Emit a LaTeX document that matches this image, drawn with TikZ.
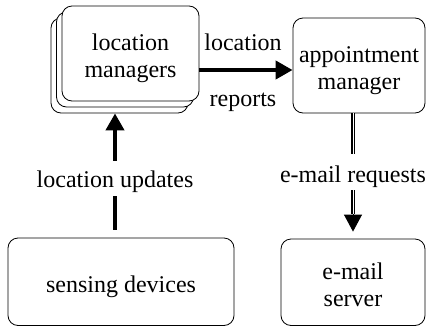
\documentclass[tikz,border=0pt]{standalone}
\usepackage{fontspec}
\setmainfont{Liberation Serif}
\newfontfamily\labelface{Liberation Serif}
\usetikzlibrary{arrows.meta,calc}
% box text sits a little below the geometric centre of its box
\newcommand\boxtext[1]{\raisebox{-5pt}[\height][\depth]{\begin{tabular}{@{}c@{}}#1\end{tabular}}}
\begin{document}
\begin{tikzpicture}[x=1pt,y=-1pt,
  box/.style={draw, rectangle, rounded corners=10pt, line width=0.8pt, fill=white,
    font=\labelface\fontsize{24}{27}\selectfont, inner sep=0pt},
  txt/.style={font=\labelface\fontsize{24}{27}\selectfont, inner sep=0pt, anchor=base},
  gaplabel/.style={txt, fill=white, text height=#1},
  thickarrow/.style={line width=4pt, -{Triangle[length=17pt,width=18pt]}},
  dbl/.style={double, double distance=1pt, line width=1.8pt},
  tiponly/.style={line width=1pt, -{Triangle[length=17pt,width=18pt]}}]
\useasboundingbox (0,0) rectangle (426,327);

% stack of location managers
\node[box, minimum width=137pt, minimum height=95pt] (lm2) at (119.5,65.5) {};
\node[box, minimum width=137pt, minimum height=95pt] (lm1) at (125,59.5) {};
\node[box, minimum width=137pt, minimum height=95pt] (lm) at (130.5,53.5) {\boxtext{location\\managers}};

% other components
\node[box, minimum width=132pt, minimum height=95pt] (am) at (359,65.5) {\boxtext{appointment\\manager}};
\node[box, minimum width=226pt, minimum height=87.5pt] (sd) at (121,281.75) {\boxtext{sensing devices}};
\node[box, minimum width=144pt, minimum height=86.5pt] (es) at (353,282.25) {\boxtext{e-mail\\server}};

% guide coordinates for the connectors
\coordinate (hy) at (0,70);
\coordinate (ux) at (115,0);
\coordinate (dx) at (353,0);
\coordinate (dtip) at (353,214);

% location reports
\draw[thickarrow] (lm.east |- hy) -- (am.west |- hy);
\node[txt] (lrtop) at (243,50) {location};
\node[txt] (lrbot) at (243,106) {reports};

% location updates
\draw[thickarrow] ([yshift=8pt]sd.north -| ux) -- (lm2.south -| ux);
\node[gaplabel=26pt, text depth=9pt] (lu) at (115,187) {location updates};

% e-mail requests
\draw[dbl] (am.south -| dx) -- (dtip);
\draw[tiponly] (dtip) -- ([yshift=7pt]es.north -| dx);
\node[gaplabel=28pt, text depth=8pt] (er) at (353,182) {e-mail requests};
\end{tikzpicture}
\end{document}
